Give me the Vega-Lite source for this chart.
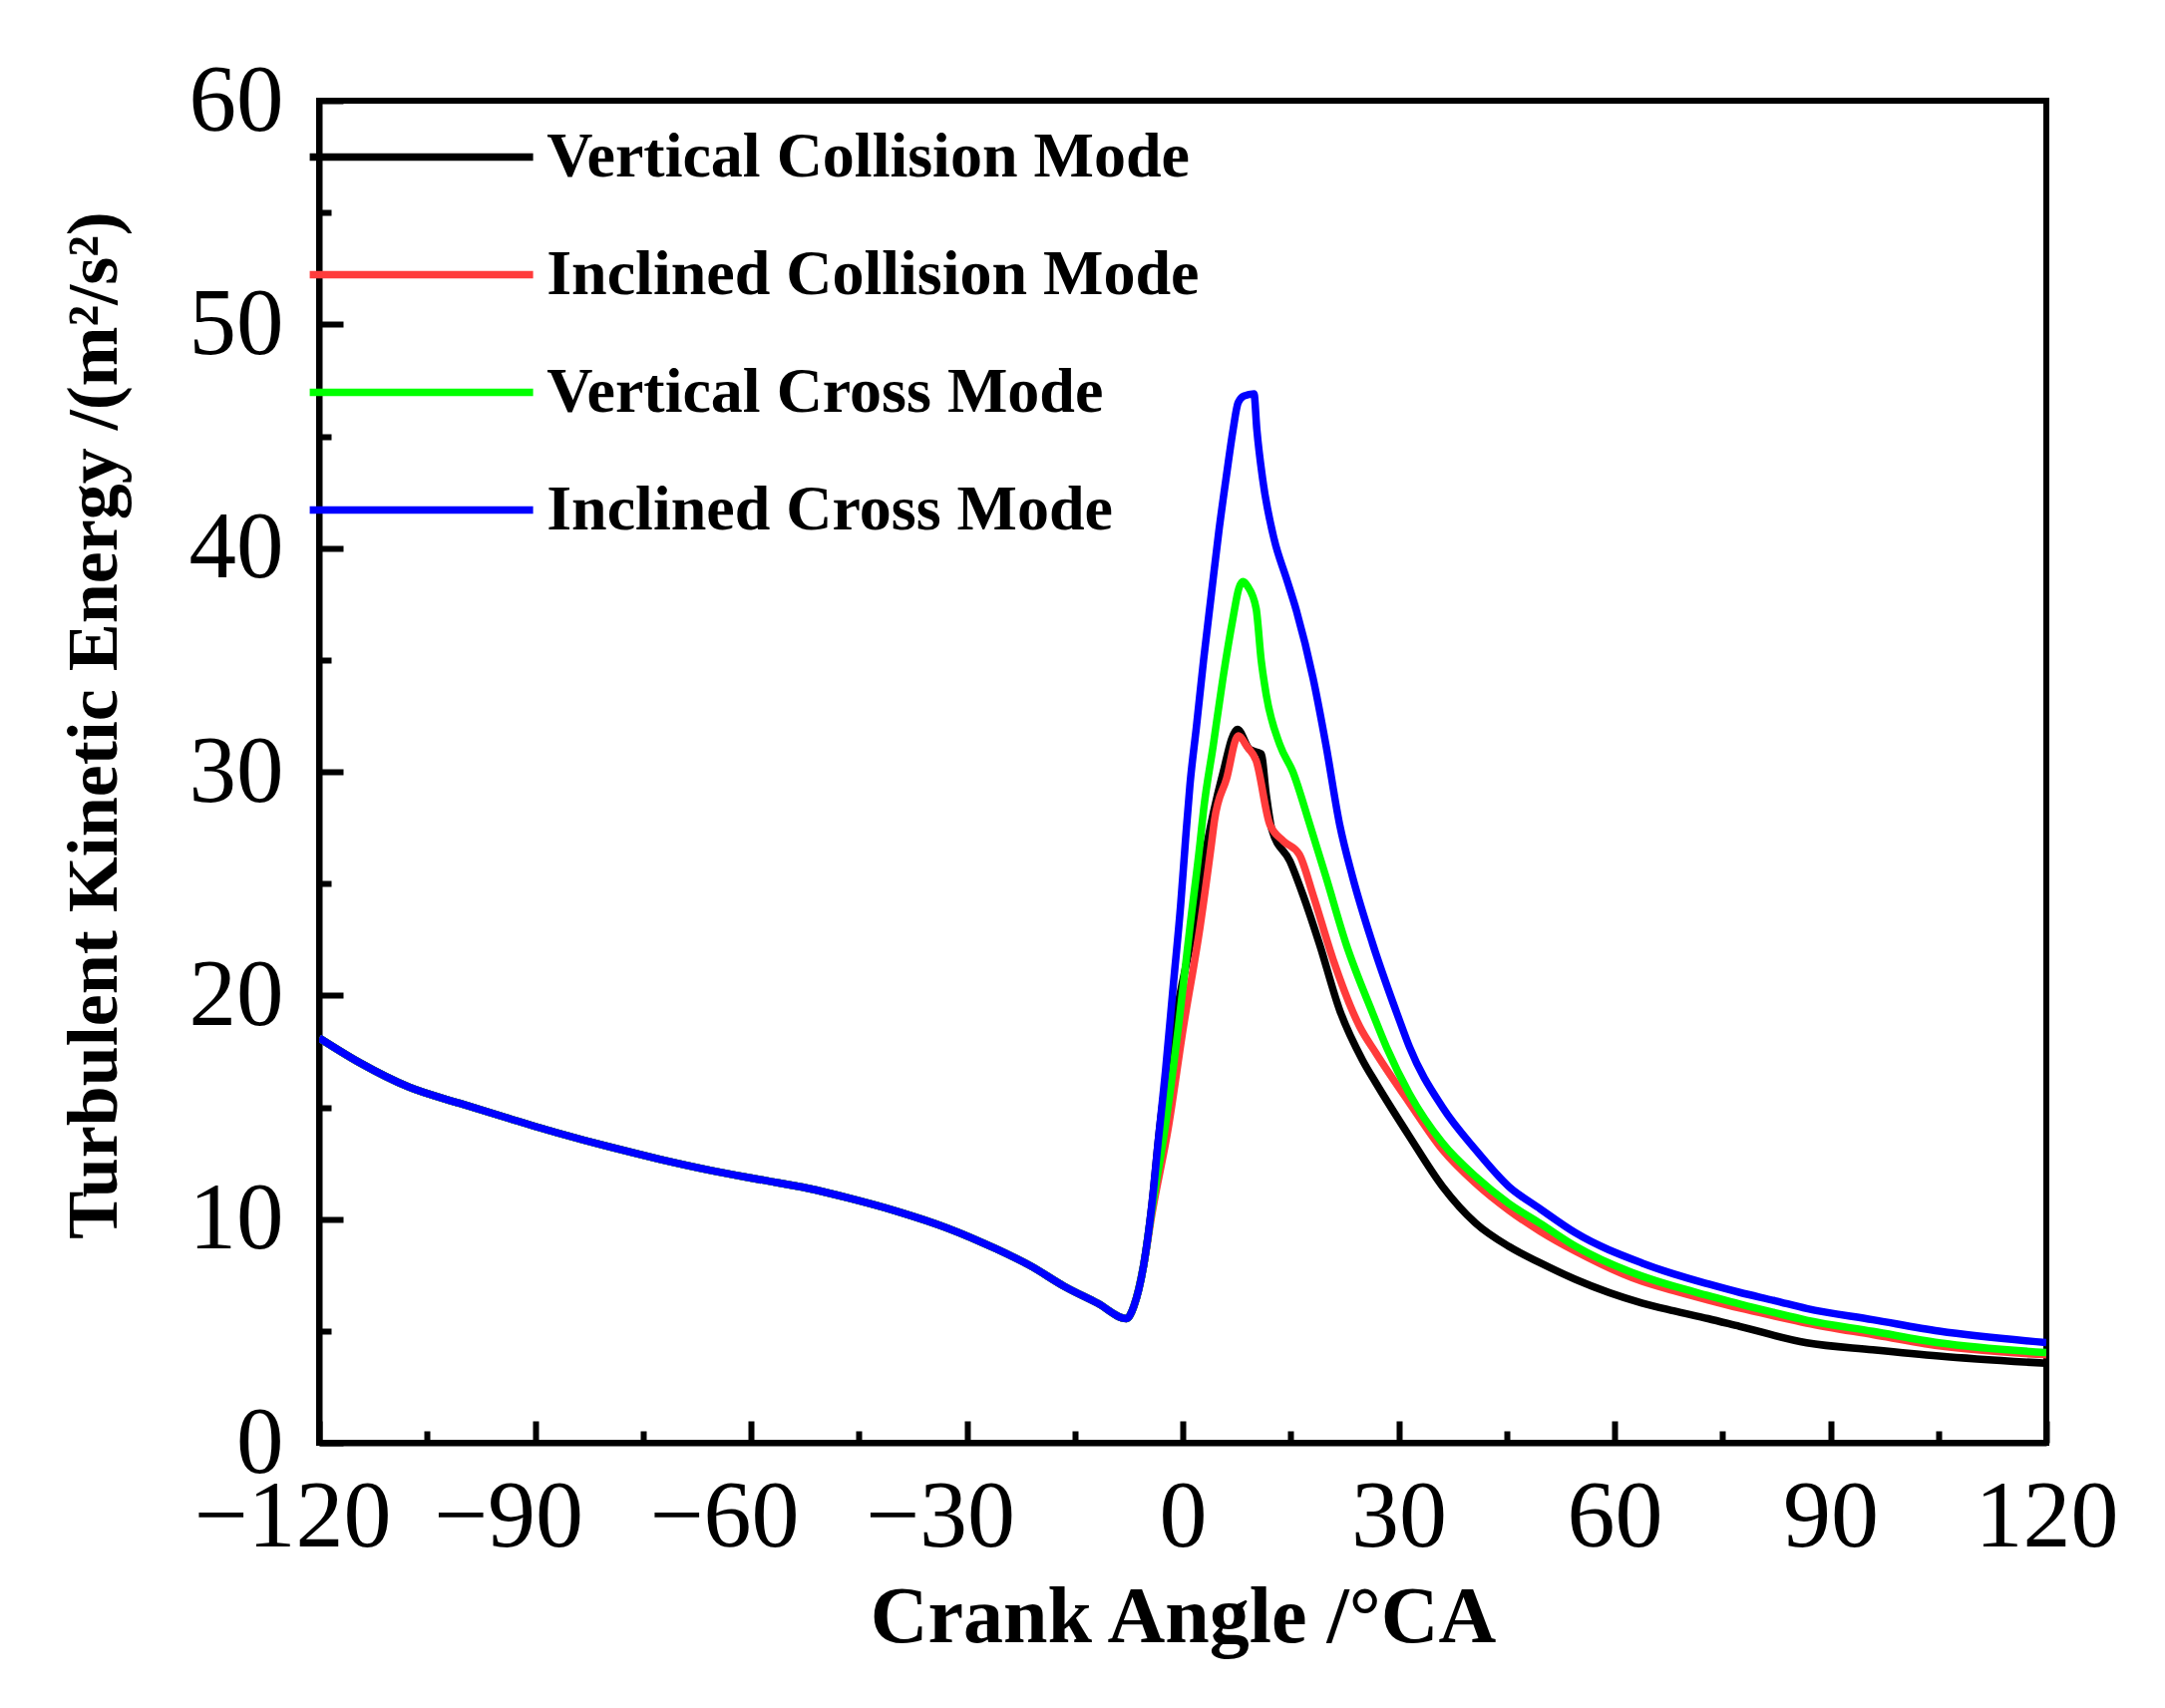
{
  "$schema": "https://vega.github.io/schema/vega-lite/v6.json",
  "description": "Turbulent kinetic energy vs crank angle for four spray modes",
  "width": 1732,
  "height": 1346,
  "autosize": {"type": "none"},
  "padding": {"left": 320, "top": 101, "right": 119, "bottom": 266},
  "background": "white",
  "config": {
    "font": "Liberation Serif",
    "view": {"stroke": "black", "strokeWidth": 6}
  },
  "data": {
    "values": [
      {"angle": -120, "tke": 18.1, "mode": "Vertical Collision Mode"},
      {"angle": -114.4, "tke": 17.0, "mode": "Vertical Collision Mode"},
      {"angle": -107.5, "tke": 15.9, "mode": "Vertical Collision Mode"},
      {"angle": -100.4, "tke": 15.17, "mode": "Vertical Collision Mode"},
      {"angle": -93.6, "tke": 14.5, "mode": "Vertical Collision Mode"},
      {"angle": -86.6, "tke": 13.83, "mode": "Vertical Collision Mode"},
      {"angle": -79.8, "tke": 13.24, "mode": "Vertical Collision Mode"},
      {"angle": -72.7, "tke": 12.68, "mode": "Vertical Collision Mode"},
      {"angle": -65.9, "tke": 12.2, "mode": "Vertical Collision Mode"},
      {"angle": -59.0, "tke": 11.78, "mode": "Vertical Collision Mode"},
      {"angle": -52.1, "tke": 11.38, "mode": "Vertical Collision Mode"},
      {"angle": -46.5, "tke": 10.95, "mode": "Vertical Collision Mode"},
      {"angle": -39.6, "tke": 10.34, "mode": "Vertical Collision Mode"},
      {"angle": -32.7, "tke": 9.6, "mode": "Vertical Collision Mode"},
      {"angle": -25.8, "tke": 8.65, "mode": "Vertical Collision Mode"},
      {"angle": -21.1, "tke": 7.9, "mode": "Vertical Collision Mode"},
      {"angle": -16.5, "tke": 7.0, "mode": "Vertical Collision Mode"},
      {"angle": -11.9, "tke": 6.25, "mode": "Vertical Collision Mode"},
      {"angle": -7.8, "tke": 5.55, "mode": "Vertical Collision Mode"},
      {"angle": -6.8, "tke": 6.1, "mode": "Vertical Collision Mode"},
      {"angle": -5.4, "tke": 8.0, "mode": "Vertical Collision Mode"},
      {"angle": -4.3, "tke": 10.6, "mode": "Vertical Collision Mode"},
      {"angle": -3.2, "tke": 14.1, "mode": "Vertical Collision Mode"},
      {"angle": -1.2, "tke": 18.6, "mode": "Vertical Collision Mode"},
      {"angle": 1.5, "tke": 23.05, "mode": "Vertical Collision Mode"},
      {"angle": 3.4, "tke": 26.8, "mode": "Vertical Collision Mode"},
      {"angle": 5.4, "tke": 29.7, "mode": "Vertical Collision Mode"},
      {"angle": 7.6, "tke": 31.9, "mode": "Vertical Collision Mode"},
      {"angle": 9.3, "tke": 31.0, "mode": "Vertical Collision Mode"},
      {"angle": 10.9, "tke": 30.8, "mode": "Vertical Collision Mode"},
      {"angle": 11.6, "tke": 29.0, "mode": "Vertical Collision Mode"},
      {"angle": 12.4, "tke": 27.4, "mode": "Vertical Collision Mode"},
      {"angle": 14.9, "tke": 26.0, "mode": "Vertical Collision Mode"},
      {"angle": 16.7, "tke": 24.5, "mode": "Vertical Collision Mode"},
      {"angle": 19.0, "tke": 22.3, "mode": "Vertical Collision Mode"},
      {"angle": 21.8, "tke": 19.35, "mode": "Vertical Collision Mode"},
      {"angle": 25.0, "tke": 17.1, "mode": "Vertical Collision Mode"},
      {"angle": 26.9, "tke": 16.06, "mode": "Vertical Collision Mode"},
      {"angle": 31.5, "tke": 13.7, "mode": "Vertical Collision Mode"},
      {"angle": 36.1, "tke": 11.46, "mode": "Vertical Collision Mode"},
      {"angle": 40.7, "tke": 9.82, "mode": "Vertical Collision Mode"},
      {"angle": 45.3, "tke": 8.78, "mode": "Vertical Collision Mode"},
      {"angle": 49.7, "tke": 8.04, "mode": "Vertical Collision Mode"},
      {"angle": 54.6, "tke": 7.3, "mode": "Vertical Collision Mode"},
      {"angle": 63.8, "tke": 6.25, "mode": "Vertical Collision Mode"},
      {"angle": 68.2, "tke": 5.9, "mode": "Vertical Collision Mode"},
      {"angle": 73.0, "tke": 5.55, "mode": "Vertical Collision Mode"},
      {"angle": 77.4, "tke": 5.2, "mode": "Vertical Collision Mode"},
      {"angle": 86.7, "tke": 4.47, "mode": "Vertical Collision Mode"},
      {"angle": 95.9, "tke": 4.16, "mode": "Vertical Collision Mode"},
      {"angle": 105.1, "tke": 3.88, "mode": "Vertical Collision Mode"},
      {"angle": 120, "tke": 3.55, "mode": "Vertical Collision Mode"},

      {"angle": -120, "tke": 18.1, "mode": "Inclined Collision Mode"},
      {"angle": -114.4, "tke": 17.0, "mode": "Inclined Collision Mode"},
      {"angle": -107.5, "tke": 15.9, "mode": "Inclined Collision Mode"},
      {"angle": -100.4, "tke": 15.17, "mode": "Inclined Collision Mode"},
      {"angle": -93.6, "tke": 14.5, "mode": "Inclined Collision Mode"},
      {"angle": -86.6, "tke": 13.83, "mode": "Inclined Collision Mode"},
      {"angle": -79.8, "tke": 13.24, "mode": "Inclined Collision Mode"},
      {"angle": -72.7, "tke": 12.68, "mode": "Inclined Collision Mode"},
      {"angle": -65.9, "tke": 12.2, "mode": "Inclined Collision Mode"},
      {"angle": -59.0, "tke": 11.78, "mode": "Inclined Collision Mode"},
      {"angle": -52.1, "tke": 11.38, "mode": "Inclined Collision Mode"},
      {"angle": -46.5, "tke": 10.95, "mode": "Inclined Collision Mode"},
      {"angle": -39.6, "tke": 10.34, "mode": "Inclined Collision Mode"},
      {"angle": -32.7, "tke": 9.6, "mode": "Inclined Collision Mode"},
      {"angle": -25.8, "tke": 8.65, "mode": "Inclined Collision Mode"},
      {"angle": -21.1, "tke": 7.9, "mode": "Inclined Collision Mode"},
      {"angle": -16.5, "tke": 7.0, "mode": "Inclined Collision Mode"},
      {"angle": -11.9, "tke": 6.25, "mode": "Inclined Collision Mode"},
      {"angle": -7.8, "tke": 5.55, "mode": "Inclined Collision Mode"},
      {"angle": -6.8, "tke": 6.1, "mode": "Inclined Collision Mode"},
      {"angle": -5.4, "tke": 8.0, "mode": "Inclined Collision Mode"},
      {"angle": -4.3, "tke": 10.2, "mode": "Inclined Collision Mode"},
      {"angle": -2.0, "tke": 14.1, "mode": "Inclined Collision Mode"},
      {"angle": 0.1, "tke": 18.6, "mode": "Inclined Collision Mode"},
      {"angle": 2.4, "tke": 23.05, "mode": "Inclined Collision Mode"},
      {"angle": 4.0, "tke": 26.8, "mode": "Inclined Collision Mode"},
      {"angle": 4.4, "tke": 27.8, "mode": "Inclined Collision Mode"},
      {"angle": 6.1, "tke": 29.7, "mode": "Inclined Collision Mode"},
      {"angle": 7.7, "tke": 31.6, "mode": "Inclined Collision Mode"},
      {"angle": 9.0, "tke": 31.1, "mode": "Inclined Collision Mode"},
      {"angle": 10.2, "tke": 30.5, "mode": "Inclined Collision Mode"},
      {"angle": 12.1, "tke": 27.65, "mode": "Inclined Collision Mode"},
      {"angle": 14.0, "tke": 26.9, "mode": "Inclined Collision Mode"},
      {"angle": 16.2, "tke": 26.3, "mode": "Inclined Collision Mode"},
      {"angle": 18.1, "tke": 24.5, "mode": "Inclined Collision Mode"},
      {"angle": 20.9, "tke": 21.6, "mode": "Inclined Collision Mode"},
      {"angle": 24.6, "tke": 18.6, "mode": "Inclined Collision Mode"},
      {"angle": 26.9, "tke": 17.4, "mode": "Inclined Collision Mode"},
      {"angle": 31.5, "tke": 15.2, "mode": "Inclined Collision Mode"},
      {"angle": 36.1, "tke": 13.1, "mode": "Inclined Collision Mode"},
      {"angle": 40.7, "tke": 11.6, "mode": "Inclined Collision Mode"},
      {"angle": 45.3, "tke": 10.4, "mode": "Inclined Collision Mode"},
      {"angle": 49.7, "tke": 9.45, "mode": "Inclined Collision Mode"},
      {"angle": 54.6, "tke": 8.56, "mode": "Inclined Collision Mode"},
      {"angle": 63.8, "tke": 7.22, "mode": "Inclined Collision Mode"},
      {"angle": 68.2, "tke": 6.8, "mode": "Inclined Collision Mode"},
      {"angle": 73.0, "tke": 6.38, "mode": "Inclined Collision Mode"},
      {"angle": 77.4, "tke": 6.02, "mode": "Inclined Collision Mode"},
      {"angle": 82.3, "tke": 5.66, "mode": "Inclined Collision Mode"},
      {"angle": 86.7, "tke": 5.35, "mode": "Inclined Collision Mode"},
      {"angle": 95.9, "tke": 4.83, "mode": "Inclined Collision Mode"},
      {"angle": 105.1, "tke": 4.33, "mode": "Inclined Collision Mode"},
      {"angle": 120, "tke": 3.93, "mode": "Inclined Collision Mode"},

      {"angle": -120, "tke": 18.1, "mode": "Vertical Cross Mode"},
      {"angle": -114.4, "tke": 17.0, "mode": "Vertical Cross Mode"},
      {"angle": -107.5, "tke": 15.9, "mode": "Vertical Cross Mode"},
      {"angle": -100.4, "tke": 15.17, "mode": "Vertical Cross Mode"},
      {"angle": -93.6, "tke": 14.5, "mode": "Vertical Cross Mode"},
      {"angle": -86.6, "tke": 13.83, "mode": "Vertical Cross Mode"},
      {"angle": -79.8, "tke": 13.24, "mode": "Vertical Cross Mode"},
      {"angle": -72.7, "tke": 12.68, "mode": "Vertical Cross Mode"},
      {"angle": -65.9, "tke": 12.2, "mode": "Vertical Cross Mode"},
      {"angle": -59.0, "tke": 11.78, "mode": "Vertical Cross Mode"},
      {"angle": -52.1, "tke": 11.38, "mode": "Vertical Cross Mode"},
      {"angle": -46.5, "tke": 10.95, "mode": "Vertical Cross Mode"},
      {"angle": -39.6, "tke": 10.34, "mode": "Vertical Cross Mode"},
      {"angle": -32.7, "tke": 9.6, "mode": "Vertical Cross Mode"},
      {"angle": -25.8, "tke": 8.65, "mode": "Vertical Cross Mode"},
      {"angle": -21.1, "tke": 7.9, "mode": "Vertical Cross Mode"},
      {"angle": -16.5, "tke": 7.0, "mode": "Vertical Cross Mode"},
      {"angle": -11.9, "tke": 6.25, "mode": "Vertical Cross Mode"},
      {"angle": -7.8, "tke": 5.55, "mode": "Vertical Cross Mode"},
      {"angle": -6.8, "tke": 6.1, "mode": "Vertical Cross Mode"},
      {"angle": -5.4, "tke": 8.0, "mode": "Vertical Cross Mode"},
      {"angle": -4.3, "tke": 10.4, "mode": "Vertical Cross Mode"},
      {"angle": -2.45, "tke": 14.1, "mode": "Vertical Cross Mode"},
      {"angle": -0.6, "tke": 18.6, "mode": "Vertical Cross Mode"},
      {"angle": 1.0, "tke": 23.05, "mode": "Vertical Cross Mode"},
      {"angle": 2.4, "tke": 26.8, "mode": "Vertical Cross Mode"},
      {"angle": 2.9, "tke": 28.3, "mode": "Vertical Cross Mode"},
      {"angle": 4.25, "tke": 31.2, "mode": "Vertical Cross Mode"},
      {"angle": 5.6, "tke": 34.2, "mode": "Vertical Cross Mode"},
      {"angle": 7.0, "tke": 36.9, "mode": "Vertical Cross Mode"},
      {"angle": 7.8, "tke": 38.2, "mode": "Vertical Cross Mode"},
      {"angle": 8.4, "tke": 38.5, "mode": "Vertical Cross Mode"},
      {"angle": 9.0, "tke": 38.3, "mode": "Vertical Cross Mode"},
      {"angle": 10.2, "tke": 37.3, "mode": "Vertical Cross Mode"},
      {"angle": 10.9, "tke": 35.0, "mode": "Vertical Cross Mode"},
      {"angle": 11.6, "tke": 33.45, "mode": "Vertical Cross Mode"},
      {"angle": 13.5, "tke": 31.2, "mode": "Vertical Cross Mode"},
      {"angle": 15.3, "tke": 30.0, "mode": "Vertical Cross Mode"},
      {"angle": 17.6, "tke": 27.7, "mode": "Vertical Cross Mode"},
      {"angle": 19.9, "tke": 25.3, "mode": "Vertical Cross Mode"},
      {"angle": 22.7, "tke": 22.3, "mode": "Vertical Cross Mode"},
      {"angle": 26.4, "tke": 19.2, "mode": "Vertical Cross Mode"},
      {"angle": 28.3, "tke": 17.7, "mode": "Vertical Cross Mode"},
      {"angle": 31.5, "tke": 15.6, "mode": "Vertical Cross Mode"},
      {"angle": 36.1, "tke": 13.4, "mode": "Vertical Cross Mode"},
      {"angle": 40.7, "tke": 11.9, "mode": "Vertical Cross Mode"},
      {"angle": 45.3, "tke": 10.7, "mode": "Vertical Cross Mode"},
      {"angle": 49.7, "tke": 9.8, "mode": "Vertical Cross Mode"},
      {"angle": 54.6, "tke": 8.78, "mode": "Vertical Cross Mode"},
      {"angle": 63.8, "tke": 7.45, "mode": "Vertical Cross Mode"},
      {"angle": 68.2, "tke": 7.0, "mode": "Vertical Cross Mode"},
      {"angle": 73.0, "tke": 6.58, "mode": "Vertical Cross Mode"},
      {"angle": 77.4, "tke": 6.2, "mode": "Vertical Cross Mode"},
      {"angle": 82.3, "tke": 5.81, "mode": "Vertical Cross Mode"},
      {"angle": 86.7, "tke": 5.48, "mode": "Vertical Cross Mode"},
      {"angle": 95.9, "tke": 4.98, "mode": "Vertical Cross Mode"},
      {"angle": 105.1, "tke": 4.47, "mode": "Vertical Cross Mode"},
      {"angle": 120, "tke": 4.03, "mode": "Vertical Cross Mode"},

      {"angle": -120, "tke": 18.1, "mode": "Inclined Cross Mode"},
      {"angle": -114.4, "tke": 17.0, "mode": "Inclined Cross Mode"},
      {"angle": -107.5, "tke": 15.9, "mode": "Inclined Cross Mode"},
      {"angle": -100.4, "tke": 15.17, "mode": "Inclined Cross Mode"},
      {"angle": -93.6, "tke": 14.5, "mode": "Inclined Cross Mode"},
      {"angle": -86.6, "tke": 13.83, "mode": "Inclined Cross Mode"},
      {"angle": -79.8, "tke": 13.24, "mode": "Inclined Cross Mode"},
      {"angle": -72.7, "tke": 12.68, "mode": "Inclined Cross Mode"},
      {"angle": -65.9, "tke": 12.2, "mode": "Inclined Cross Mode"},
      {"angle": -59.0, "tke": 11.78, "mode": "Inclined Cross Mode"},
      {"angle": -52.1, "tke": 11.38, "mode": "Inclined Cross Mode"},
      {"angle": -46.5, "tke": 10.95, "mode": "Inclined Cross Mode"},
      {"angle": -39.6, "tke": 10.34, "mode": "Inclined Cross Mode"},
      {"angle": -32.7, "tke": 9.6, "mode": "Inclined Cross Mode"},
      {"angle": -25.8, "tke": 8.65, "mode": "Inclined Cross Mode"},
      {"angle": -21.1, "tke": 7.9, "mode": "Inclined Cross Mode"},
      {"angle": -16.5, "tke": 7.0, "mode": "Inclined Cross Mode"},
      {"angle": -11.9, "tke": 6.25, "mode": "Inclined Cross Mode"},
      {"angle": -7.8, "tke": 5.55, "mode": "Inclined Cross Mode"},
      {"angle": -6.8, "tke": 6.1, "mode": "Inclined Cross Mode"},
      {"angle": -5.4, "tke": 8.0, "mode": "Inclined Cross Mode"},
      {"angle": -4.3, "tke": 10.6, "mode": "Inclined Cross Mode"},
      {"angle": -3.4, "tke": 13.5, "mode": "Inclined Cross Mode"},
      {"angle": -2.4, "tke": 16.6, "mode": "Inclined Cross Mode"},
      {"angle": -1.3, "tke": 20.5, "mode": "Inclined Cross Mode"},
      {"angle": -0.3, "tke": 24.0, "mode": "Inclined Cross Mode"},
      {"angle": 0.4, "tke": 27.0, "mode": "Inclined Cross Mode"},
      {"angle": 1.0, "tke": 29.4, "mode": "Inclined Cross Mode"},
      {"angle": 1.9, "tke": 32.0, "mode": "Inclined Cross Mode"},
      {"angle": 2.9, "tke": 35.0, "mode": "Inclined Cross Mode"},
      {"angle": 4.0, "tke": 38.0, "mode": "Inclined Cross Mode"},
      {"angle": 5.0, "tke": 40.7, "mode": "Inclined Cross Mode"},
      {"angle": 6.1, "tke": 43.3, "mode": "Inclined Cross Mode"},
      {"angle": 7.0, "tke": 45.3, "mode": "Inclined Cross Mode"},
      {"angle": 7.7, "tke": 46.5, "mode": "Inclined Cross Mode"},
      {"angle": 8.5, "tke": 46.8, "mode": "Inclined Cross Mode"},
      {"angle": 9.9, "tke": 46.9, "mode": "Inclined Cross Mode"},
      {"angle": 10.3, "tke": 45.3, "mode": "Inclined Cross Mode"},
      {"angle": 11.1, "tke": 43.1, "mode": "Inclined Cross Mode"},
      {"angle": 12.7, "tke": 40.4, "mode": "Inclined Cross Mode"},
      {"angle": 14.4, "tke": 38.65, "mode": "Inclined Cross Mode"},
      {"angle": 15.8, "tke": 37.2, "mode": "Inclined Cross Mode"},
      {"angle": 18.1, "tke": 34.2, "mode": "Inclined Cross Mode"},
      {"angle": 19.9, "tke": 31.2, "mode": "Inclined Cross Mode"},
      {"angle": 21.8, "tke": 27.65, "mode": "Inclined Cross Mode"},
      {"angle": 23.6, "tke": 25.3, "mode": "Inclined Cross Mode"},
      {"angle": 26.4, "tke": 22.3, "mode": "Inclined Cross Mode"},
      {"angle": 30.1, "tke": 18.9, "mode": "Inclined Cross Mode"},
      {"angle": 31.5, "tke": 17.7, "mode": "Inclined Cross Mode"},
      {"angle": 36.1, "tke": 15.0, "mode": "Inclined Cross Mode"},
      {"angle": 40.7, "tke": 13.1, "mode": "Inclined Cross Mode"},
      {"angle": 45.3, "tke": 11.46, "mode": "Inclined Cross Mode"},
      {"angle": 49.7, "tke": 10.45, "mode": "Inclined Cross Mode"},
      {"angle": 54.6, "tke": 9.38, "mode": "Inclined Cross Mode"},
      {"angle": 63.8, "tke": 8.04, "mode": "Inclined Cross Mode"},
      {"angle": 68.2, "tke": 7.55, "mode": "Inclined Cross Mode"},
      {"angle": 73.0, "tke": 7.1, "mode": "Inclined Cross Mode"},
      {"angle": 77.4, "tke": 6.72, "mode": "Inclined Cross Mode"},
      {"angle": 82.3, "tke": 6.35, "mode": "Inclined Cross Mode"},
      {"angle": 86.7, "tke": 6.0, "mode": "Inclined Cross Mode"},
      {"angle": 95.9, "tke": 5.5, "mode": "Inclined Cross Mode"},
      {"angle": 105.1, "tke": 4.99, "mode": "Inclined Cross Mode"},
      {"angle": 120, "tke": 4.48, "mode": "Inclined Cross Mode"}
    ]
  },
  "layer": [
    {
      "mark": {"type": "line", "strokeWidth": 7.5, "interpolate": "monotone", "clip": true},
      "encoding": {
        "x": {
          "field": "angle",
          "type": "quantitative",
          "scale": {"domain": [-120, 120], "nice": false, "zero": false},
          "axis": {
            "orient": "bottom",
            "values": [-120, -90, -60, -30, 0, 30, 60, 90, 120],
            "grid": false,
            "domainColor": "black",
            "domainWidth": 6,
            "tickColor": "black",
            "tickWidth": 6,
            "tickSize": -22,
            "labelFont": "Liberation Serif",
            "labelFontSize": 96,
            "labelColor": "black",
            "labelPadding": 49,
            "labelLimit": 1000,
            "labelFlush": false,
            "labelOverlap": false,
            "labelBound": false,
            "labelOffset": {"condition": {"test": "datum.value < 0", "value": -27}, "value": 0},
            "title": "Crank Angle /°CA",
            "titleFont": "Liberation Serif",
            "titleFontSize": 80,
            "titleFontWeight": "bold",
            "titleColor": "black",
            "titleX": 866,
            "titleY": 199,
            "titleAlign": "center",
            "titleBaseline": "alphabetic"
          }
        },
        "y": {
          "field": "tke",
          "type": "quantitative",
          "scale": {"domain": [0, 60], "nice": false},
          "axis": {
            "orient": "left",
            "values": [0, 10, 20, 30, 40, 50, 60],
            "grid": false,
            "domainColor": "black",
            "domainWidth": 6,
            "tickColor": "black",
            "tickWidth": 6,
            "tickSize": -24,
            "labelFont": "Liberation Serif",
            "labelFontSize": 95,
            "labelColor": "black",
            "labelPadding": 60,
            "labelLimit": 1000,
            "labelFlush": false,
            "labelOverlap": false,
            "labelBound": false,
            "title": "Turbulent Kinetic Energy /(m²/s²)",
            "titleFont": "Liberation Serif",
            "titleFontSize": 72,
            "titleFontWeight": "bold",
            "titleColor": "black",
            "titleAngle": -90,
            "titleX": -204,
            "titleY": 626,
            "titleAlign": "center",
            "titleBaseline": "alphabetic"
          }
        },
        "color": {
          "field": "mode",
          "type": "nominal",
          "scale": {
            "domain": ["Vertical Collision Mode", "Inclined Collision Mode", "Vertical Cross Mode", "Inclined Cross Mode"],
            "range": ["#000000", "#ff3b3b", "#00ff00", "#0000ff"]
          },
          "legend": {
            "orient": "none",
            "legendX": 70.6,
            "legendY": 24.5,
            "padding": 0,
            "title": null,
            "symbolType": "M-5,0H5",
            "symbolSize": 2007,
            "symbolStrokeWidth": 7.5,
            "labelFont": "Liberation Serif",
            "labelFontWeight": "bold",
            "labelFontSize": 64,
            "labelColor": "black",
            "labelOffset": 93.6,
            "labelLimit": 2000,
            "rowPadding": 54
          }
        }
      }
    },
    {
      "mark": {"type": "line", "strokeOpacity": 0},
      "encoding": {
        "x": {
          "field": "angle",
          "type": "quantitative",
          "axis": {
            "orient": "bottom",
            "values": [-105, -75, -45, -15, 15, 45, 75, 105],
            "grid": false,
            "domain": false,
            "labels": false,
            "title": null,
            "tickColor": "black",
            "tickWidth": 6,
            "tickSize": -12
          }
        },
        "y": {
          "field": "tke",
          "type": "quantitative",
          "axis": {
            "orient": "left",
            "values": [5, 15, 25, 35, 45, 55],
            "grid": false,
            "domain": false,
            "labels": false,
            "title": null,
            "tickColor": "black",
            "tickWidth": 6,
            "tickSize": -12
          }
        },
        "detail": {"field": "mode"}
      }
    }
  ],
  "resolve": {"axis": {"x": "independent", "y": "independent"}}
}
